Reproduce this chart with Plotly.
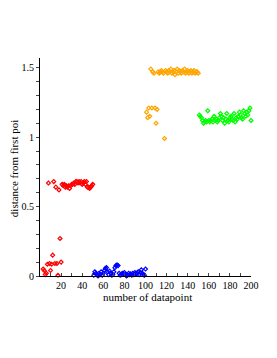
import plotly.graph_objects as go

# ---- data ----
red_x = list(range(1, 51))
red_y = [-0.005, -0.005, 0.05, 0.04, 0.01, 0.02, 0.085, 0.67, 0.09, 0.04,
         0.085, 0.15, 0.68, 0.09, 0.64, 0.09, 0.005, 0.62, 0.27, 0.10,
         0.66, 0.65, 0.66, 0.64, 0.65, 0.64, 0.65, 0.63, 0.65, 0.66,
         0.66, 0.67, 0.66, 0.68, 0.68, 0.67, 0.68, 0.67, 0.68, 0.66,
         0.67, 0.68, 0.66, 0.68, 0.64, 0.64, 0.63, 0.64, 0.65, 0.66]

blue_x = list(range(51, 101))
blue_y = [0.005, 0.03, 0.02, 0.01, 0.0, 0.02, 0.01, 0.03, 0.005, 0.02,
          0.04, 0.055, 0.06, 0.03, 0.01, 0.035, 0.02, 0.005, 0.01, 0.03,
          0.06, 0.075, 0.08, 0.075, 0.02, 0.005, 0.01, 0.02, 0.015, 0.025,
          0.01, 0.0, 0.005, 0.02, 0.01, 0.015, 0.005, 0.02, 0.01, 0.025,
          0.015, 0.02, 0.03, 0.01, 0.025, 0.045, 0.02, 0.01, 0.005, 0.05]

orange_x = list(range(101, 151))
orange_y = [1.18, 1.14, 1.21, 1.15, 1.49, 1.21, 1.47, 1.46, 1.21, 1.10,
            1.20, 1.47, 1.46, 1.47, 1.48, 1.47, 1.46, 0.99, 1.48, 1.47,
            1.46, 1.48, 1.47, 1.49, 1.46, 1.47, 1.48, 1.45, 1.47, 1.49,
            1.46, 1.48, 1.47, 1.46, 1.48, 1.47, 1.49, 1.46, 1.47, 1.48,
            1.46, 1.47, 1.48, 1.46, 1.47, 1.48, 1.46, 1.47, 1.47, 1.46]

green_x = list(range(151, 201))
green_y = [1.16, 1.15, 1.14, 1.12, 1.10, 1.11, 1.12, 1.11, 1.19, 1.12,
           1.11, 1.12, 1.13, 1.11, 1.15, 1.12, 1.13, 1.11, 1.12, 1.14,
           1.17, 1.15, 1.12, 1.14, 1.10, 1.13, 1.17, 1.12, 1.11, 1.14,
           1.15, 1.13, 1.12, 1.17, 1.11, 1.14, 1.13, 1.15, 1.18, 1.16,
           1.14, 1.13, 1.19, 1.17, 1.15, 1.18, 1.16, 1.19, 1.21, 1.12]

x_tickvals = list(range(10, 201, 10))
x_ticktext = [str(v) if v % 20 == 0 else "" for v in x_tickvals]
y_tickvals = [round(0.1 * i, 1) for i in range(0, 16)]
y_ticktext = {0.0: "0", 0.5: "0.5", 1.0: "1", 1.5: "1.5"}

x_title = "number of datapoint"
y_title = "distance from first poi"

fig = go.Figure()
for xs, ys, col in [(red_x, red_y, "#FF0000"), (blue_x, blue_y, "#0000FF"),
                    (orange_x, orange_y, "#FFA500"), (green_x, green_y, "#00FF00")]:
    fig.add_trace(go.Scatter(
        x=xs, y=ys, mode="markers", cliponaxis=False,
        marker=dict(symbol="diamond-open", size=3, color=col, line=dict(width=1.2, color=col)),
        showlegend=False))

font = "Liberation Serif, Times New Roman, serif"
fig.update_layout(
    width=277, height=358,
    margin=dict(l=32, r=34, t=50, b=90),
    paper_bgcolor="white", plot_bgcolor="white",
    font=dict(family=font, size=10, color="black"),
    xaxis=dict(range=[0, 200], showgrid=False, zeroline=False, showline=True,
               linecolor="black", linewidth=1, ticks="inside", ticklen=3,
               tickvals=x_tickvals, ticktext=x_ticktext),
    yaxis=dict(range=[0, 1.57], showgrid=False, zeroline=False, showline=True,
               linecolor="black", linewidth=1, ticks="outside", ticklen=3,
               tickvals=y_tickvals, ticktext=[y_ticktext.get(v, "") for v in y_tickvals]),
    annotations=[
        dict(text=x_title, xref="paper", yref="paper", x=0.51, y=0, yshift=-21,
             xanchor="center", yanchor="middle", showarrow=False, font=dict(size=11, family=font)),
        dict(text=y_title, xref="paper", yref="paper", x=0, y=0.49, xshift=-26,
             xanchor="center", yanchor="middle", textangle=-90, showarrow=False,
             font=dict(size=11, family=font)),
    ],
)
fig.write_html("out.html")
